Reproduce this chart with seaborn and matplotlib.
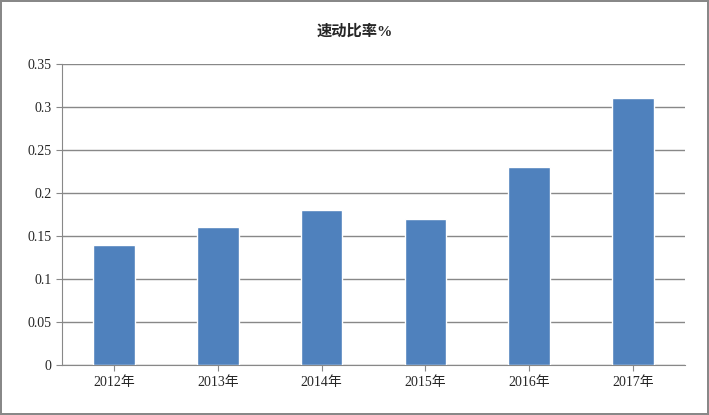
import matplotlib
matplotlib.use("Agg")
import matplotlib.pyplot as plt
import seaborn as sns
import pandas as pd

years = ["2012年", "2013年", "2014年", "2015年", "2016年", "2017年"]
ratios = [0.14, 0.16, 0.18, 0.17, 0.23, 0.31]
yticks = [0, 0.05, 0.1, 0.15, 0.2, 0.25, 0.3, 0.35]
ytick_labels = ["0", "0.05", "0.1", "0.15", "0.2", "0.25", "0.3", "0.35"]

sns.set_style("white")
plt.rcParams['font.family'] = ['Liberation Serif', 'Noto Sans CJK SC']

df = pd.DataFrame({"year": years, "ratio": ratios})

fig = plt.figure(figsize=(7.09, 4.15), dpi=100)
fig.patch.set_edgecolor("#888888")
fig.patch.set_linewidth(1.5)
ax = fig.add_axes([0.0875, 0.12, 0.8785, 0.726])

sns.barplot(data=df, x="year", y="ratio", color="#4F81BD", saturation=1, width=0.4, ax=ax, zorder=3)

ax.set_ylim(0, 0.35)
ax.set_yticks(yticks)
ax.set_yticklabels(ytick_labels, fontsize=10)
ax.tick_params(axis="x", labelsize=10)
ax.yaxis.grid(True, color="#888888", linewidth=1, zorder=0)
ax.set_axisbelow(True)
for s in ["top", "right"]:
    ax.spines[s].set_visible(False)
ax.spines["left"].set_color("#888888")
ax.spines["bottom"].set_color("#888888")
ax.set_xlabel("")
ax.set_ylabel("")
ax.tick_params(axis="both", length=4, color="#888888", direction="out", left=True, bottom=True)

fig.text(0.5, 0.925, "速动比率%", ha="center", va="center", fontsize=11, fontweight="bold")

fig.savefig("out.png", dpi=100, edgecolor=fig.get_edgecolor())
